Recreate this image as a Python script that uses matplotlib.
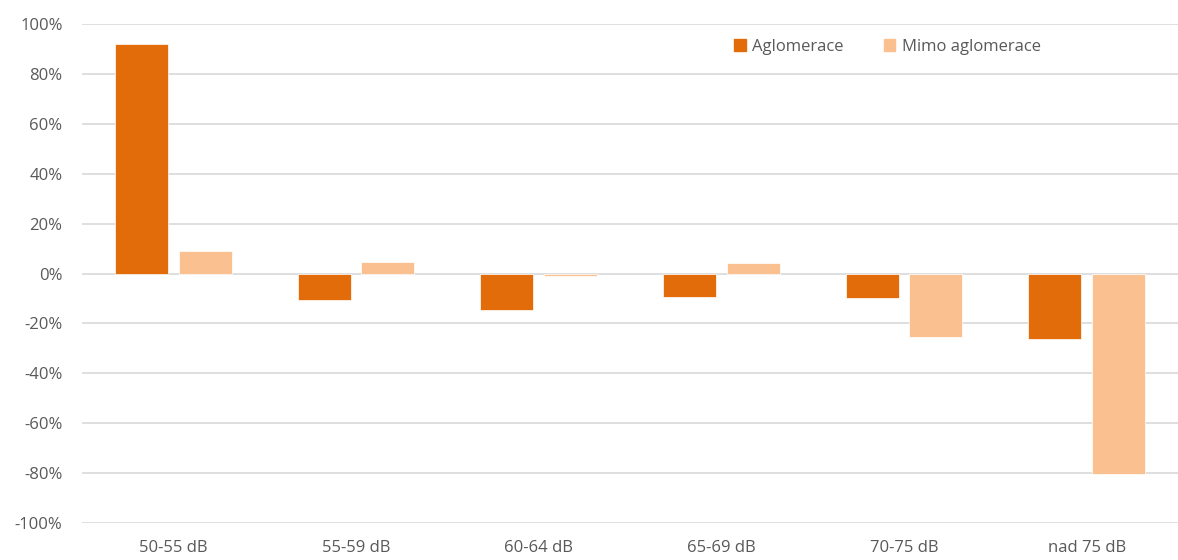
import matplotlib.pyplot as plt
import numpy as np
from matplotlib.ticker import PercentFormatter
from matplotlib.patches import Patch

categories = ['50-55 dB', '55-59 dB', '60-64 dB', '65-69 dB', '70-75 dB', 'nad 75 dB']
aglomerace = [92.0, -10.6, -14.6, -9.4, -9.8, -26.3]
mimo_aglomerace = [9.0, 4.6, -1.0, 4.2, -25.5, -80.5]

dark = '#E36C0A'
light = '#FAC090'
grey = '#595959'

plt.rcParams['font.family'] = ['Open Sans', 'DejaVu Sans']
plt.rcParams['axes.unicode_minus'] = False

fig = plt.figure(figsize=(11.78, 5.6), dpi=100)
ax = fig.add_axes([82 / 1178, 37 / 560, 1096 / 1178, 499 / 560])

x = np.arange(len(categories))
barWidth = 0.29
gap = 0.06
ax.bar(x - (barWidth + gap) / 2, aglomerace, width=barWidth, color=dark,
       edgecolor='white', linewidth=0.5, zorder=3, label='Aglomerace')
ax.bar(x + (barWidth + gap) / 2, mimo_aglomerace, width=barWidth, color=light,
       edgecolor='white', linewidth=0.5, zorder=3, label='Mimo aglomerace')

ax.set_xlim(-0.5, len(categories) - 0.5)
ax.set_ylim(-100, 100)
ax.set_yticks(np.arange(-100, 101, 20))
ax.yaxis.set_major_formatter(PercentFormatter(decimals=0))
ax.grid(axis='y', color='#D9D9D9', linewidth=1.2, zorder=0)
ax.set_xticks(x)
ax.set_xticklabels(categories)
ax.tick_params(axis='both', length=0, colors=grey, labelsize=12)
ax.tick_params(axis='y', pad=14)
ax.tick_params(axis='x', pad=12)
for s in ax.spines.values():
    s.set_visible(False)

handles = [Patch(color=dark, label='Aglomerace'), Patch(color=light, label='Mimo aglomerace')]
leg = ax.legend(handles=handles, loc='upper center', bbox_to_anchor=(0.735, 1.0), ncol=2,
                frameon=False, fontsize=12, handlelength=0.7, handleheight=0.7,
                handletextpad=0.4, columnspacing=2.4)
for t in leg.get_texts():
    t.set_color(grey)

fig.savefig('out.png', dpi=100)
